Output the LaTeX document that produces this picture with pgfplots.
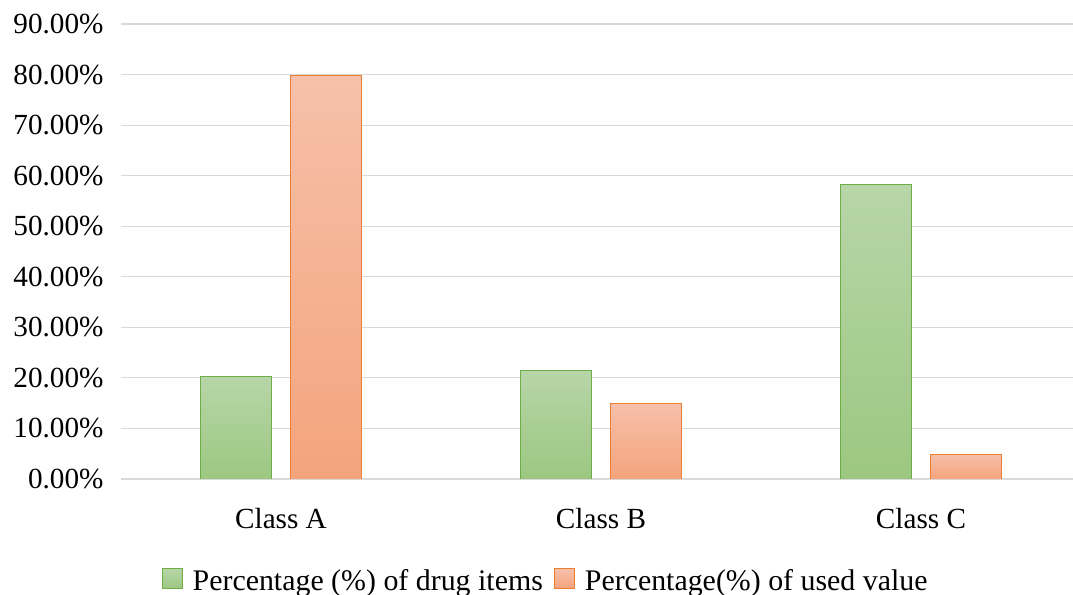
\documentclass[border=0pt]{standalone}
\usepackage{pgfplots}
\pgfplotsset{compat=1.18}
\usepackage{fontspec}
\setmainfont{Liberation Serif}
\definecolor{gtop}{HTML}{B7D6A8}
\definecolor{gbot}{HTML}{9CC781}
\definecolor{gline}{HTML}{70AD47}
\definecolor{otop}{HTML}{F6C0AA}
\definecolor{obot}{HTML}{F4A47C}
\definecolor{oline}{HTML}{ED7D31}
\definecolor{gridc}{HTML}{D9D9D9}
\begin{document}
\begin{tikzpicture}
\useasboundingbox (0,0) rectangle (1073bp,595bp);
\begin{axis}[
  at={(121bp,116bp)}, anchor=south west,
  scale only axis, width=952bp, height=455bp,
  xmin=-0.5, xmax=2.475, ymin=0, ymax=90,
  bar width=71bp,
  xtick={0,1,2}, xticklabels={Class A,Class B,Class C},
  ytick={0,10,20,30,40,50,60,70,80,90},
  yticklabels={0.00\%,10.00\%,20.00\%,30.00\%,40.00\%,50.00\%,60.00\%,70.00\%,80.00\%,90.00\%},
  ymajorgrids, grid style={draw=gridc, line width=1.2bp},
  axis line style={draw=none}, major tick style={draw=none},
  tick label style={font=\fontsize{29.3}{32}\selectfont, text=black},
  yticklabel style={anchor=east, xshift=-14bp},
  xticklabel style={anchor=base, yshift=-49bp},
  legend style={at={(0.445,-0.222)}, anchor=center, draw=none, fill=none,
    legend columns=2, font=\fontsize{30}{33}\selectfont,
    nodes={inner sep=0pt},
    /tikz/every odd column/.append style={column sep=10bp},
    /tikz/every even column/.append style={column sep=11bp},
    inner sep=0pt},
  legend image code/.code={\draw[#1] (0bp,-8bp) rectangle (20bp,12bp);},
  gbar/.style={ybar, bar shift=-45bp, draw=gline, line width=1bp, top color=gtop, bottom color=gbot},
  obar/.style={ybar, bar shift=45bp, draw=oline, line width=1bp, top color=otop, bottom color=obot},
]
\addplot[gbar] coordinates {(0,20.3)};
\addlegendentry{Percentage (\%) of drug items}
\addplot[obar] coordinates {(0,79.9)};
\addlegendentry{Percentage(\%) of used value}
\addplot[gbar, forget plot] coordinates {(1,21.5)};
\addplot[gbar, forget plot] coordinates {(2,58.3)};
\addplot[obar, forget plot] coordinates {(1,15.0)};
\addplot[obar, forget plot] coordinates {(2,4.9)};
\end{axis}
\end{tikzpicture}
\end{document}
